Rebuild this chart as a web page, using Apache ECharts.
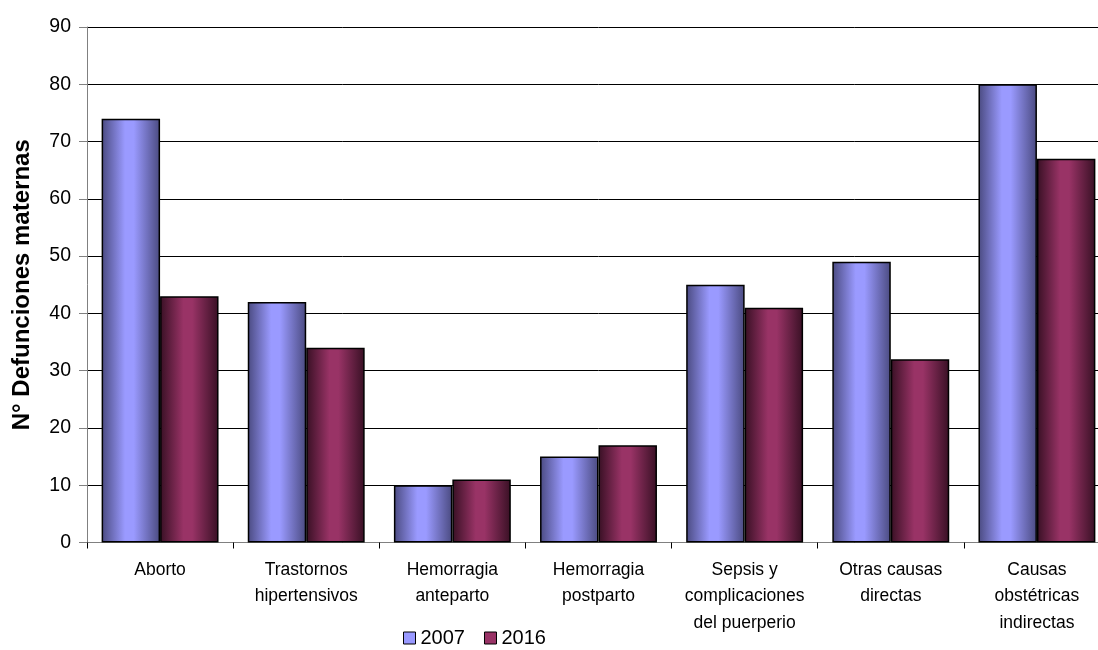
<!DOCTYPE html>
<html>
<head>
<meta charset="utf-8">
<script src="https://cdn.jsdelivr.net/npm/echarts@6/dist/echarts.min.js"></script>
<style>
html, body { margin: 0; padding: 0; background: #ffffff; overflow: hidden; }
/* the plot runs slightly past the right edge of the window */
#chart { width: 1125px; height: 650px; }
</style>
</head>
<body>
<div id="chart"></div>
<script>
// Causes of maternal death, counts for 2007 and 2016
const categories = [
  'Aborto',
  'Trastornos\nhipertensivos',
  'Hemorragia\nanteparto',
  'Hemorragia\npostparto',
  'Sepsis y\ncomplicaciones\ndel puerperio',
  'Otras causas\ndirectas',
  'Causas\nobstétricas\nindirectas'
];
const seriesNames = ['2007', '2016'];
const values2007 = [74, 42, 10, 15, 45, 49, 80];
const values2016 = [43, 34, 11, 17, 41, 32, 67];
const yTicks = { min: 0, max: 90, interval: 10 };

// Cylinder-like horizontal shading for each bar
function shade(edge, mid) {
  return new echarts.graphic.LinearGradient(0, 0, 1, 0, [
    { offset: 0, color: edge },
    { offset: 0.4, color: mid },
    { offset: 0.55, color: mid },
    { offset: 1, color: edge }
  ]);
}

const font = 'Liberation Sans, Arial, sans-serif';
const chart = echarts.init(document.getElementById('chart'));
chart.setOption({
  backgroundColor: '#ffffff',
  animation: false,
  grid: { left: 87, top: 27, width: 1023, height: 515.5, containLabel: false },
  legend: {
    left: 398, top: 623,
    itemWidth: 12, itemHeight: 12, itemGap: 19,
    textStyle: { fontFamily: font, fontSize: 20, color: '#000' },
    data: [
      { name: seriesNames[0], icon: 'rect', itemStyle: { color: '#9999ff', borderColor: '#000', borderWidth: 1 } },
      { name: seriesNames[1], icon: 'rect', itemStyle: { color: '#993366', borderColor: '#000', borderWidth: 1 } }
    ]
  },
  xAxis: {
    type: 'category',
    data: categories,
    axisLine: { lineStyle: { color: '#808080', width: 1 } },
    axisTick: { show: true, length: 6, alignWithLabel: false, lineStyle: { color: '#000' } },
    axisLabel: {
      interval: 0, margin: 14, fontFamily: font, fontSize: 17.5, color: '#000', lineHeight: 26.5
    }
  },
  yAxis: {
    type: 'value',
    min: yTicks.min, max: yTicks.max, interval: yTicks.interval,
    name: 'N° Defunciones maternas',
    nameLocation: 'middle',
    nameGap: 53,
    nameTextStyle: { fontFamily: font, fontSize: 24, fontWeight: 'bold', color: '#000' },
    axisLine: { show: true, lineStyle: { color: '#808080', width: 1 } },
    axisTick: { show: true, length: 8, lineStyle: { color: '#808080' } },
    axisLabel: { margin: 16, fontFamily: font, fontSize: 19.5, color: '#000' },
    splitLine: { show: true, lineStyle: { color: '#000', width: 1 } }
  },
  series: [
    {
      name: seriesNames[0], type: 'bar', data: values2007,
      barGap: '0%', barCategoryGap: '20%',
      itemStyle: { color: shade('#4a4a80', '#9a9aff'), borderColor: '#000', borderWidth: 1.5 }
    },
    {
      name: seriesNames[1], type: 'bar', data: values2016,
      itemStyle: { color: shade('#381024', '#993366'), borderColor: '#000', borderWidth: 1.5 }
    }
  ]
});
</script>
</body>
</html>
